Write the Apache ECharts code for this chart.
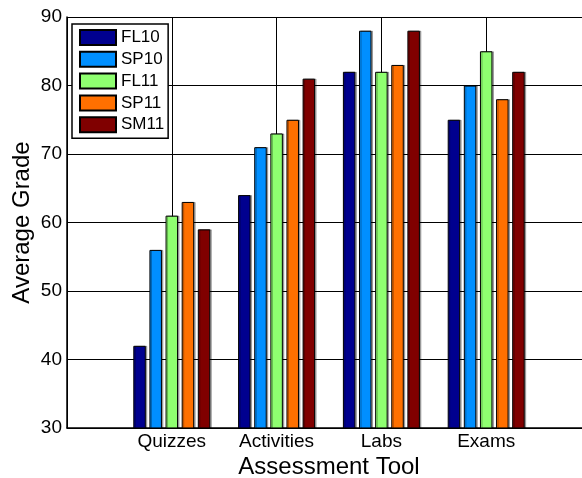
<!DOCTYPE html>
<html><head><meta charset="utf-8">
<script src="https://cdn.jsdelivr.net/npm/echarts@6/dist/echarts.min.js"></script>
<style>html,body{margin:0;padding:0;background:#fff}#c{width:582px;height:478px}</style>
</head><body><div id="c"></div>
<script>
var categories = ['', 'Quizzes', 'Activities', 'Labs', 'Exams', ''];
var seriesNames = ['FL10', 'SP10', 'FL11', 'SP11', 'SM11'];
var FL10 = [null, 42, 64, 82, 75, null];
var SP10 = [null, 56, 71, 88, 80, null];
var FL11 = [null, 61, 73, 82, 85, null];
var SP11 = [null, 63, 75, 83, 78, null];
var SM11 = [null, 59, 81, 88, 82, null];
var yTicks = [30, 40, 50, 60, 70, 80, 90];
var colors = ['#00008F', '#008FFF', '#8FFF70', '#FF7000', '#800000'];
var values = [FL10, SP10, FL11, SP11, SM11];
var font = 'Liberation Sans, Arial, Helvetica, sans-serif';

var series = seriesNames.map(function (n, i) {
  return {
    name: n, type: 'bar', data: values[i],
    barWidth: 12.5, barGap: '29%',
    itemStyle: { color: colors[i], borderColor: '#000', borderWidth: 1,
      shadowColor: 'rgba(0,0,0,0.3)', shadowOffsetX: 1.5, shadowOffsetY: 0, shadowBlur: 0 }
  };
});

var chart = echarts.init(document.getElementById('c'), null, { renderer: 'canvas' });
chart.setOption({
  animation: false,
  textStyle: { fontFamily: font },
  grid: { left: 67, width: 524, top: 17, height: 411, containLabel: false, outerBoundsMode: 'none' },
  legend: {
    orient: 'vertical', left: 72, top: 24, data: seriesNames,
    icon: 'rect',
    itemWidth: 36, itemHeight: 15, itemGap: 4.8,
    padding: [5, 4, 5, 7],
    backgroundColor: '#fff', borderColor: '#000', borderWidth: 1.5,
    textStyle: { fontSize: 17, lineHeight: 16, color: '#000', fontFamily: font },
    selectedMode: false
  },
  xAxis: {
    type: 'category', data: categories, boundaryGap: false,
    name: 'Assessment Tool', nameLocation: 'middle', nameGap: 27, nameMoveOverlap: false,
    nameTextStyle: { fontSize: 24, color: '#000', fontFamily: font },
    axisLine: { lineStyle: { color: '#000', width: 1.5 } },
    axisTick: { show: true, inside: true, length: 5, lineStyle: { color: '#000' } },
    axisLabel: { fontSize: 19, color: '#000', margin: 4, interval: 0, fontFamily: font },
    splitLine: { show: true, lineStyle: { color: '#000', width: 1 } }
  },
  yAxis: {
    type: 'value', min: 30, max: 90, interval: 10,
    name: 'Average Grade', nameLocation: 'middle', nameGap: 33, nameMoveOverlap: false,
    nameTextStyle: { fontSize: 24, color: '#000', fontFamily: font },
    axisLine: { show: true, lineStyle: { color: '#000', width: 1.5 } },
    axisTick: { show: true, inside: true, length: 5, lineStyle: { color: '#000' } },
    axisLabel: { fontSize: 19, color: '#000', margin: 5, fontFamily: font,
      formatter: function (v) { return yTicks.indexOf(v) >= 0 ? String(v) : ''; } },
    splitLine: { show: true, lineStyle: { color: '#000', width: 1 } }
  },
  series: series
});
</script></body></html>
